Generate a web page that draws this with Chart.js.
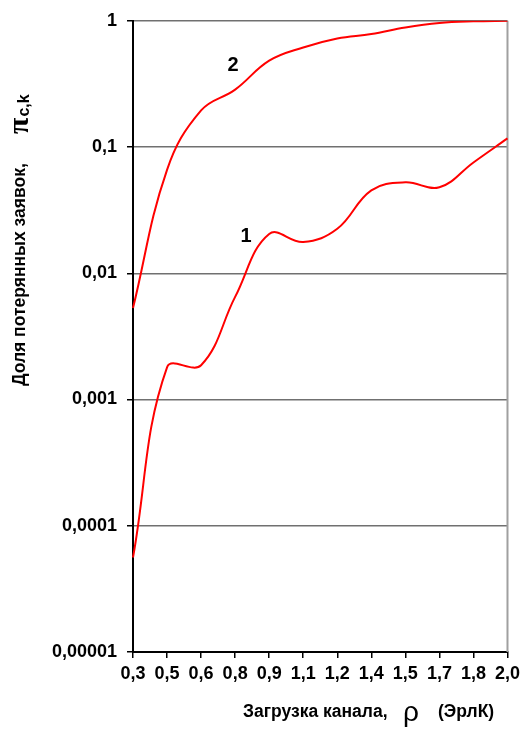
<!DOCTYPE html>
<html>
<head>
<meta charset="utf-8">
<script src="https://cdn.jsdelivr.net/npm/chart.js@4/dist/chart.umd.min.js"></script>
<style>
  html, body { margin: 0; padding: 0; background: #fff; }
  #wrap { width: 525px; height: 749px; }
</style>
</head>
<body>
<div id="wrap"><canvas id="c" width="525" height="749"></canvas></div>
<script>
// Channel load categories (Erl)
const loadLabels = ['0,3', '0,5', '0,6', '0,8', '0,9', '1,1', '1,2', '1,4', '1,5', '1,7', '1,8', '2,0'];

// Loss probability, curve 1
const loss1 = [0.000056, 0.0018, 0.00187, 0.0065, 0.0205, 0.0177, 0.0225, 0.0454, 0.0525, 0.048, 0.0755, 0.117];
// Loss probability, curve 2
const loss2 = [0.0053, 0.066, 0.195, 0.285, 0.483, 0.615, 0.725, 0.785, 0.885, 0.96, 0.99, 1.0];

// Decade ticks of the log axis and their labels
const yTickValues = [1, 0.1, 0.01, 0.001, 0.0001, 0.00001];
const yTickLabels = ['1', '0,1', '0,01', '0,001', '0,0001', '0,00001'];

// Curve numbers placed in data coordinates (category index, value)
const curveTags = [
  { text: '2', x: 2.94, y: 0.44 },
  { text: '1', x: 3.32, y: 0.0197 }
];

const FONT = '"Liberation Sans", Arial, sans-serif';

const decorations = {
  id: 'decorations',
  beforeDatasetsDraw(chart) {
    const { ctx, chartArea } = chart;
    ctx.save();
    ctx.strokeStyle = '#a0a0a0';
    ctx.lineWidth = 2;
    ctx.beginPath();
    ctx.moveTo(chartArea.right, chartArea.top);
    ctx.lineTo(chartArea.right, chartArea.bottom);
    ctx.stroke();
    ctx.restore();
  },
  afterDraw(chart) {
    const { ctx, scales } = chart;
    ctx.save();
    ctx.fillStyle = '#000';

    // curve numbers
    ctx.font = 'bold 20px ' + FONT;
    ctx.textAlign = 'center';
    ctx.textBaseline = 'middle';
    curveTags.forEach(t => {
      ctx.fillText(t.text, scales.x.getPixelForValue(t.x), scales.y.getPixelForValue(t.y));
    });

    // y axis title (rotated)
    ctx.save();
    ctx.translate(20, 386);
    ctx.rotate(-Math.PI / 2);
    ctx.textAlign = 'left';
    ctx.textBaseline = 'middle';
    ctx.font = 'bold 17.5px ' + FONT;
    ctx.fillText('Доля потерянных заявок,', 0, 0);
    ctx.font = 'bold 30px "Liberation Serif", serif';
    ctx.fillText('π', 252, 0);
    const piW = ctx.measureText('π').width;
    ctx.font = 'bold 16px ' + FONT;
    ctx.fillText('c,k', 252 + piW + 1, 5);
    ctx.restore();

    // x axis title
    ctx.textAlign = 'left';
    ctx.textBaseline = 'middle';
    ctx.font = 'bold 17.5px ' + FONT;
    ctx.fillText('Загрузка канала,', 243, 712);
    ctx.font = '28px ' + FONT;
    ctx.fillText('ρ', 403, 713);
    ctx.font = 'bold 17.5px ' + FONT;
    ctx.fillText('(ЭрлК)', 438, 712);
    ctx.restore();
  }
};

const lineStyle = {
  borderColor: '#ff0000',
  borderWidth: 2,
  pointRadius: 0,
  fill: false,
  tension: 0.4
};

new Chart(document.getElementById('c'), {
  type: 'line',
  data: {
    labels: loadLabels,
    datasets: [
      Object.assign({ label: '1', data: loss1 }, lineStyle),
      Object.assign({ label: '2', data: loss2 }, lineStyle)
    ]
  },
  options: {
    responsive: false,
    animation: false,
    events: [],
    layout: { padding: { top: 20, right: 14, left: 0, bottom: 0 } },
    plugins: { legend: { display: false }, tooltip: { enabled: false } },
    scales: {
      x: {
        type: 'category',
        offset: false,
        grid: { drawOnChartArea: false, drawTicks: true, tickLength: 6, tickColor: '#000', lineWidth: 1.5 },
        border: { color: '#000', width: 2 },
        ticks: {
          color: '#000', font: { family: FONT, size: 18, weight: 'bold' },
          maxRotation: 0, autoSkip: false, padding: 5
        },
        afterFit(s) { s.height = 97; }
      },
      y: {
        type: 'logarithmic',
        min: 0.00001,
        max: 1,
        afterBuildTicks(s) { s.ticks = yTickValues.map(v => ({ value: v })); },
        grid: { color: '#707070', lineWidth: 1.5, tickColor: '#000', tickLength: 6 },
        border: { color: '#000', width: 2 },
        ticks: {
          color: '#000', font: { family: FONT, size: 18, weight: 'bold' }, padding: 10,
          callback(v) {
            const i = yTickValues.findIndex(t => Math.abs(t - v) < t * 1e-6);
            return i >= 0 ? yTickLabels[i] : '';
          }
        },
        afterFit(s) { s.width = 133; }
      }
    }
  },
  plugins: [decorations]
});
</script>
</body>
</html>
